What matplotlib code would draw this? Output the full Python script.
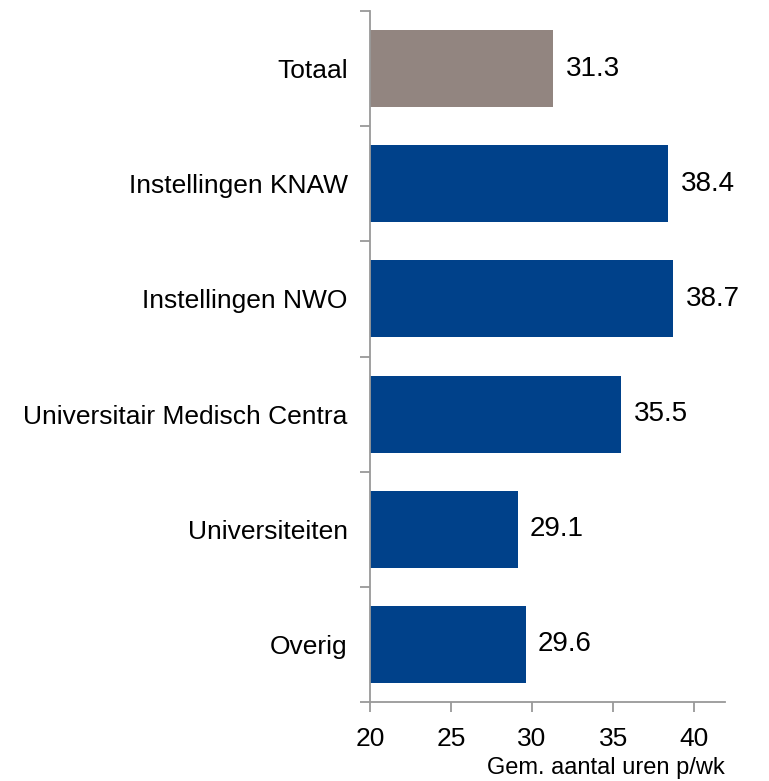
import matplotlib
matplotlib.use("Agg")
import matplotlib.pyplot as plt
import numpy as np

plt.rcParams['font.family'] = ['Liberation Sans', 'DejaVu Sans']

categories = ["Totaal", "Instellingen KNAW", "Instellingen NWO",
              "Universitair Medisch Centra", "Universiteiten", "Overig"]
values = [31.3, 38.4, 38.7, 35.5, 29.1, 29.6]
colors = ["#928580", "#00418A", "#00418A", "#00418A", "#00418A", "#00418A"]
xticks = [20, 25, 30, 35, 40]

fig = plt.figure(figsize=(7.69, 7.81), dpi=100)
ax = fig.add_axes([370/769, 1-702/781, (725-370)/769, (702-11)/781])

n = len(categories)
ypos = np.arange(n)[::-1]
ax.barh(ypos, [v - 20 for v in values], left=20, height=0.67, color=colors)
for y, v in zip(ypos, values):
    ax.annotate(f"{v:.1f}", (v, y), xytext=(9, 0), textcoords="offset points",
                va="center", ha="left", fontsize=20, color="black")

ax.set_xlim(20, 41.9)
ax.set_ylim(-0.5, n - 0.5)
ax.set_xticks(xticks)
ax.set_xticklabels([str(t) for t in xticks], fontsize=19)
ax.set_yticks(ypos)
ax.set_yticklabels(categories, fontsize=19)
ax.set_yticks(np.arange(-0.5, n, 1.0), minor=True)
ax.tick_params(axis='y', which='major', length=0, pad=16)
ax.tick_params(axis='y', which='minor', length=7, width=1.3, color="#999999", direction='out')
ax.tick_params(axis='x', length=7, width=1.3, color="#999999", direction='out', pad=11)

for s in ['top', 'right']:
    ax.spines[s].set_visible(False)
for s in ['left', 'bottom']:
    ax.spines[s].set_color("#999999")
    ax.spines[s].set_linewidth(1.3)

fig.text(725/769, 1-768/781, "Gem. aantal uren p/wk", ha="right", va="center", fontsize=17)

fig.savefig("out.png", dpi=100)
